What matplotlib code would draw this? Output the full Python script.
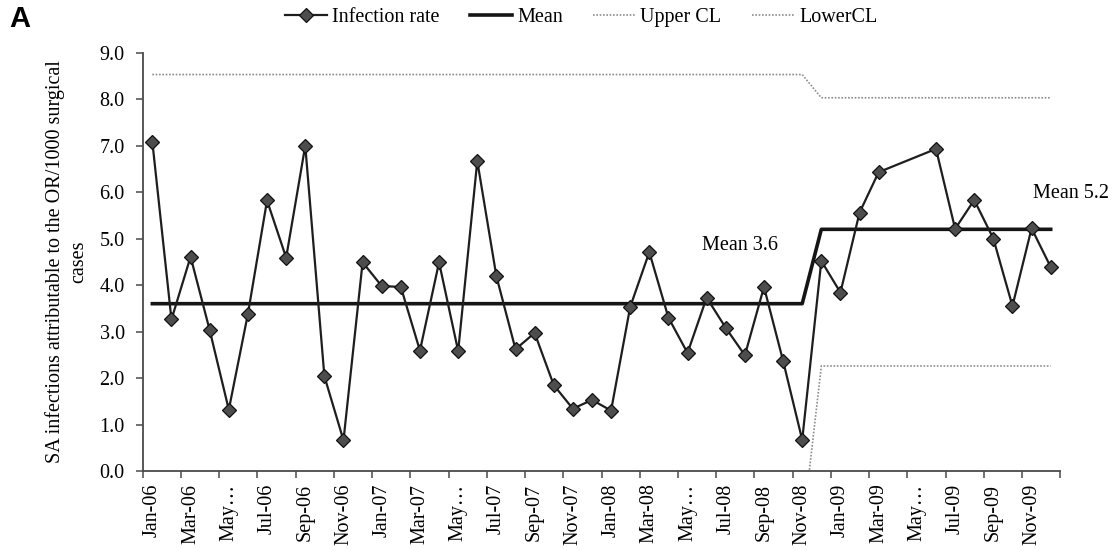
import numpy as np
import matplotlib
matplotlib.use("Agg")
import matplotlib.pyplot as plt

# monthly SA infection rate per 1000 OR cases, Jan-06 .. Dec-09 (None = no data)
months = [f"{m}-{y:02d}" for y in range(6, 10)
          for m in ["Jan", "Feb", "Mar", "Apr", "May", "Jun",
                    "Jul", "Aug", "Sep", "Oct", "Nov", "Dec"]]
infection_rate = [7.08, 3.26, 4.61, 3.03, 1.32, 3.38, 5.82, 4.59, 7.00, 2.04, 0.66, 4.49,
                  3.98, 3.96, 2.59, 4.49, 2.58, 6.67, 4.19, 2.62, 2.97, 1.85, 1.34, 1.53,
                  1.30, 3.53, 4.71, 3.30, 2.54, 3.73, 3.08, 2.49, 3.96, 2.37, 0.67, 4.52,
                  3.84, 5.56, 6.43, None, None, 6.93, 5.21, 5.83, 5.00, 3.55, 5.22, 4.39]

# control chart limits: before / after the Dec-08 change
period_len = [35, 13]
mean_vals = [3.6, 5.2]
upper_cl_vals = [8.53, 8.03]
lower_cl_vals = [-1.33, 2.26]

mean_line = np.repeat(mean_vals, period_len)
upper_cl = np.repeat(upper_cl_vals, period_len)
lower_cl = np.repeat(lower_cl_vals, period_len)

x = np.arange(len(months))
rate = np.array([np.nan if v is None else v for v in infection_rate])
ok = ~np.isnan(rate)

plt.rcParams["font.family"] = ["Liberation Serif", "DejaVu Serif"]
plt.rcParams["font.size"] = 14.5

fig = plt.figure(figsize=(11.13, 5.5), dpi=100)
ax = fig.add_axes([0.1283, 0.1436, 0.8243, 0.7606])

axis_col = "#4a4a4a"
ax.plot(x[ok], rate[ok], color="#1e1e1e", lw=1.6, marker="D", ms=6.8,
        mfc="#4d4d4d", mec="#111111", mew=0.9, label="Infection rate", zorder=4)
ax.plot(x, mean_line, color="#151515", lw=2.6, label="Mean", zorder=3)
ax.plot(x, upper_cl, color="#8c8c8c", lw=1.2, ls=(0, (1, 1)), label="Upper CL", zorder=2)
ax.plot(x, lower_cl, color="#8c8c8c", lw=1.2, ls=(0, (1, 1)), label="LowerCL", zorder=2)

ax.text(30.75, 4.86, f"Mean {mean_vals[0]}", ha="center", va="center", fontsize=14.5)
ax.text(48.05, 5.98, f"Mean {mean_vals[1]}", ha="center", va="center", fontsize=14.5,
        clip_on=False)

ax.set_xlim(-0.5, len(months) - 0.5)
ax.set_ylim(0, 9)
ax.set_yticks(np.arange(0, 9.1, 1.0))
ax.set_yticklabels([f"{v:.1f}" for v in np.arange(0, 9.1, 1.0)])

# category axis: tick marks on boundaries, every second month labelled
ax.set_xticks(np.arange(-0.5, len(months), 2))
ax.set_xticklabels([])
labels = [m if not m.startswith("May") else "May\u2026" for m in months[::2]]
ax.set_xticks(x[::2], minor=True)
ax.set_xticklabels(labels, minor=True, rotation=90)
ax.tick_params(axis="x", which="major", direction="out", length=5, width=1.1, color=axis_col)
ax.tick_params(axis="x", which="minor", length=0, pad=9)
ax.tick_params(axis="y", direction="out", length=5, width=1.1, color=axis_col, pad=8)

for side in ["top", "right"]:
    ax.spines[side].set_visible(False)
for side in ["left", "bottom"]:
    ax.spines[side].set_color(axis_col)
    ax.spines[side].set_linewidth(1.3)

ax.set_ylabel("SA infections attributable to the OR/1000 surgical\ncases",
              fontsize=14.5, linespacing=1.3, labelpad=8)

fig.legend(loc="center", bbox_to_anchor=(0.522, 0.968), ncol=4, frameon=False,
           handlelength=2.1, handletextpad=0.25, columnspacing=1.5, numpoints=1,
           fontsize=14.5)

fig.text(0.008, 0.965, "A", family="Liberation Sans", weight="bold", fontsize=21,
         va="center", ha="left")

fig.savefig("out.png", dpi=100, facecolor="white")
